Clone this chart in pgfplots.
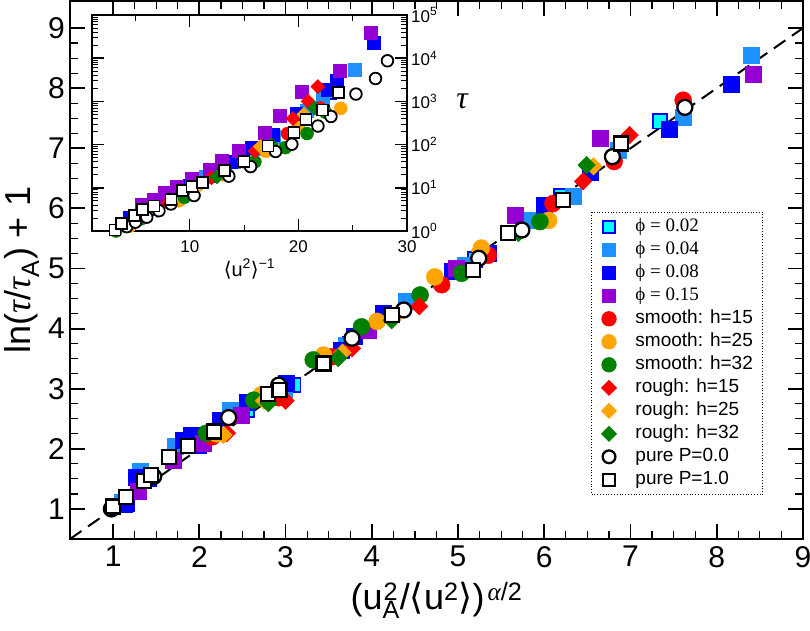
\documentclass[border=0pt]{standalone}
\usepackage{pgfplots}
\pgfplotsset{compat=1.18}
\usepackage{fontspec}
\setmainfont{Liberation Sans}
\newfontfamily\timesfont{Liberation Serif}
\newfontfamily\dejavu{DejaVu Sans}
\newcommand{\tauI}{{\timesfont\itshape τ}}
\definecolor{cyanF}{RGB}{0,255,255}
\definecolor{dodger}{RGB}{30,144,255}
\definecolor{blueF}{RGB}{0,0,255}
\definecolor{purpleF}{RGB}{148,0,211}
\definecolor{redF}{RGB}{255,0,0}
\definecolor{orangeF}{RGB}{255,165,0}
\definecolor{greenF}{RGB}{0,128,0}
\pgfplotsset{
  msq/.style={only marks, mark=square*, mark size=#1},
  mci/.style={only marks, mark=*, mark size=#1},
  mdi/.style={only marks, mark=square*, mark size=#1},
  sPhiA/.style={msq=#1, mark options={solid, fill=cyanF, draw=blueF, line width=1.8pt}},
  sPhiB/.style={msq=#1, mark options={solid, fill=dodger, draw=dodger}},
  sPhiC/.style={msq=#1, mark options={solid, fill=blueF, draw=blueF}},
  sPhiD/.style={msq=#1, mark options={solid, fill=purpleF, draw=purpleF}},
  sSmA/.style={mci=#1, mark options={solid, fill=redF, draw=redF}},
  sSmB/.style={mci=#1, mark options={solid, fill=orangeF, draw=orangeF}},
  sSmC/.style={mci=#1, mark options={solid, fill=greenF, draw=greenF}},
  sRoA/.style={mdi=#1, mark options={solid, rotate=45, fill=redF, draw=redF}},
  sRoB/.style={mdi=#1, mark options={solid, rotate=45, fill=orangeF, draw=orangeF}},
  sRoC/.style={mdi=#1, mark options={solid, rotate=45, fill=greenF, draw=greenF}},
  sPuA/.style={mci=#1, mark options={solid, fill=white, draw=black, line width=2.3pt}},
  sPuB/.style={msq=#1, mark options={solid, fill=white, draw=black, line width=2.3pt}},
}
\begin{document}
\begin{tikzpicture}
\begin{axis}[
  at={(70pt,91pt)}, anchor=south west,
  scale only axis, width=733pt, height=538pt,
  xmin=0.5, xmax=9, ymin=0.5, ymax=9.45,
  xtick={1,2,...,9}, ytick={1,2,...,9},
  minor x tick num=3, minor y tick num=3,
  tick align=inside, xtick pos=both, ytick pos=both,
  major tick length=15pt, minor tick length=8pt,
  every major tick/.append style={line width=1.8pt, black},
  every minor tick/.append style={line width=1.2pt, black},
  axis line style={line width=2.2pt},
  /pgf/number format/assume math mode=true,
  tick label style={font=\fontsize{30}{30}\selectfont},
  xticklabel style={inner sep=0pt, yshift=-7pt},
  yticklabel style={inner sep=0pt, xshift=-5pt},
  xlabel={(u\rlap{\textsuperscript{\kern1pt 2}}\textsubscript{A}/{\dejavu ⟨}u\textsuperscript{2}{\dejavu ⟩})\textsuperscript{\kern3pt{\timesfont\itshape α}/2}},
  ylabel={ln(\tauI/\tauI\textsubscript{A}) + 1},
  label style={font=\fontsize{36}{36}\selectfont},
  xlabel style={at={(axis description cs:0.5,-0.114)}, anchor=center},
  ylabel style={at={(axis description cs:-0.066,0.5)}, anchor=center},
  clip=false,
  legend cell align=left,
  legend style={at={(axis description cs:0.711,0.608)}, anchor=north west,
    draw=black, dotted, line width=0.8pt,
    font=\fontsize{19}{19}\selectfont,
    inner xsep=10pt, inner ysep=6pt, row sep=6pt, column sep=19pt,
    nodes={solid, inner sep=0pt, text height=13pt, text depth=4pt}},
  legend image code/.code={\draw[solid, mark repeat=2, mark phase=2, every mark/.append style={scale=0.85}, #1] plot coordinates {(0pt,0pt) (9pt,0pt) (18pt,0pt)};},
]
\addplot[black, dashed, line width=2pt, dash pattern=on 14pt off 8pt, forget plot] coordinates {(0.5,0.5) (9,9)};
\addplot[sPhiA=7.2pt] coordinates {(1.14,1.07) (1.42,1.5) (2.0,2.05) (2.55,2.65) (3.09,3.06) (3.75,3.75) (4.45,4.45) (5.2,5.15) (6.2,6.2) (7.34,7.45)};
\addlegendentry{{\timesfont ϕ = 0.02}}
\addplot[sPhiB=8pt] coordinates {(1.1,1.12) (1.31,1.62) (1.72,2.04) (2.36,2.65) (2.98,3.0) (3.7,3.72) (4.40,4.45) (5.08,5.06) (5.8,5.8) (6.34,6.20) (6.86,6.97) (7.61,7.51) (8.40,8.55)};
\addlegendentry{{\timesfont ϕ = 0.04}}
\addplot[sPhiC=8pt] coordinates {(1.15,1.1) (1.27,1.52) (1.81,2.15) (1.91,2.23) (2.24,2.48) (2.55,2.78) (3.01,3.1) (3.65,3.64) (3.80,3.87) (4.13,4.26) (4.93,4.95) (5.35,5.25) (6.0,6.05) (6.53,6.61) (7.45,7.31) (8.17,8.07)};
\addlegendentry{{\timesfont ϕ = 0.08}}
\addplot[sPhiD=8pt] coordinates {(1.29,1.29) (1.70,1.81) (2.05,2.1) (2.49,2.56) (3.96,3.98) (4.98,5.0) (5.66,5.89) (6.65,7.17) (8.42,8.23)};
\addlegendentry{{\timesfont ϕ = 0.15}}
\addplot[sSmA=8.5pt] coordinates {(2.15,2.2) (2.92,2.85) (3.53,3.53) (4.81,4.73) (5.35,5.22) (6.1,6.08) (6.81,6.78) (7.61,7.80)};
\addlegendentry{smooth: h=15}
\addplot[sSmB=8.5pt] coordinates {(2.2,2.25) (2.72,2.90) (3.44,3.56) (4.06,4.12) (4.73,4.86) (5.27,5.34) (6.05,5.8)};
\addlegendentry{smooth: h=25}
\addplot[sSmC=8.5pt] coordinates {(2.08,2.26) (2.63,2.81) (3.32,3.48) (3.88,4.03) (4.56,4.56) (5.04,4.92) (5.95,5.78)};
\addlegendentry{smooth: h=32}
\addplot[sRoA=6.2pt] coordinates {(2.32,2.26) (3.0,2.8) (3.77,3.67) (4.55,4.37) (6.45,6.45) (6.99,7.22)};
\addlegendentry{rough: h=15}
\addplot[sRoB=6.2pt] coordinates {(2.28,2.23) (2.75,2.8) (3.66,3.60) (4.3,4.25) (5.25,5.3) (6.57,6.70)};
\addlegendentry{rough: h=25}
\addplot[sRoC=6.2pt] coordinates {(2.80,2.76) (3.61,3.51) (4.23,4.14) (5.70,5.59) (6.49,6.72)};
\addlegendentry{rough: h=32}
\addplot[sPuA=7.5pt] coordinates {(0.98,1.0) (1.47,1.54) (2.34,2.52) (2.92,3.06) (3.77,3.84) (4.37,4.31) (5.24,5.17) (5.74,5.64) (6.79,6.86) (7.63,7.68)};
\addlegendentry{pure P=0.0}
\addplot[sPuB=7pt] coordinates {(1.0,1.04) (1.146,1.20) (1.36,1.47) (1.44,1.565) (1.65,1.86) (1.87,2.05) (2.17,2.29) (2.80,2.91) (2.93,2.98) (3.44,3.42) (4.23,4.23) (5.17,4.98) (5.58,5.59) (6.22,6.14) (6.89,7.08)};
\addlegendentry{pure P=1.0}
\end{axis}

\begin{axis}[
  at={(92pt,399pt)}, anchor=south west,
  scale only axis, width=315pt, height=216pt,
  xmin=1, xmax=30, ymin=1, ymax=100000, ymode=log,
  axis background/.style={fill=white},
  xtick={10,20,30}, minor xtick={5,15,25},
  ytick={1,10,100,1000,10000,100000},
  yticklabels={10\textsuperscript{0},10\textsuperscript{1},10\textsuperscript{2},10\textsuperscript{3},10\textsuperscript{4},10\textsuperscript{5}},
  tick align=inside, xtick pos=both, ytick pos=both,
  yticklabel pos=right,
  major tick length=12pt, minor tick length=6pt,
  every major tick/.append style={line width=1.4pt, black},
  every minor tick/.append style={line width=0.9pt, black},
  axis line style={line width=1.6pt},
  /pgf/number format/assume math mode=true,
  tick label style={font=\fontsize{17}{17}\selectfont},
  xticklabel style={inner sep=0pt, yshift=-9pt},
  yticklabel style={inner sep=0pt, xshift=4pt},
  xlabel={{\dejavu ⟨}u\textsuperscript{2}{\dejavu ⟩}\textsuperscript{−1}},
  xlabel style={font=\fontsize{20}{20}\selectfont, at={(axis description cs:0.5,-0.175)}, anchor=center},
  ylabel={\tauI},
  ylabel style={font=\fontsize{32}{32}\selectfont, rotate=-90, at={(axis description cs:1.175,0.6)}, anchor=center},
  clip=false,
]
\addplot[sPhiA=5.5pt] coordinates {(4,1.5) (6.5,3.1) (9,7) (12,18) (14.8,45) (17.5,110) (20,280) (22.3,900) (23,1500)};
\addplot[sPhiB=6.5pt] coordinates {(5,2.2) (7,4) (9.5,9) (11.5,18) (14,40) (16,80) (17.7,150) (20.8,600) (22.2,1200) (25.2,5500)};
\addplot[sPhiC=6.5pt] coordinates {(4.5,2.0) (6,3.2) (8,5.5) (10,11) (12,22) (13.8,40) (15.7,87) (17.6,170) (19.8,525) (22.7,1905) (23.5,3000) (26.9,22900)};
\addplot[sPhiD=6.5pt] coordinates {(5.57,3.98) (6.65,5.25) (7.7,7.76) (8.8,10.7) (10.2,16.6) (11.8,26.9) (12.9,42.7) (14.5,72.4) (16.9,191) (18.3,457) (20.3,1660) (23.8,5129) (26.7,39810)};
\addplot[sSmA=6.5pt] coordinates {(5,1.7) (10,9) (15,40) (19,180) (22,700)};
\addplot[sSmB=6.5pt] coordinates {(4.5,1.3) (9,5) (13,20) (17,70) (20,250) (23.9,690)};
\addplot[sSmC=6.5pt] coordinates {(3.2,1.0) (5.5,1.9) (9.5,6) (13.5,20) (16,40) (18.8,85) (20.8,180) (22.5,560)};
\addplot[sRoA=5pt] coordinates {(4.5,1.6) (8,4.5) (12,17) (16,70) (19.5,400) (20.9,1000) (21.8,2200)};
\addplot[sRoB=5pt] coordinates {(6,2.5) (11,12) (16.5,90) (20.5,500)};
\addplot[sRoC=5pt] coordinates {(7,3) (12.5,18) (17.5,100) (21.5,700)};
\addplot[sPuA=5.8pt, every mark/.append style={line width=1.8pt}] coordinates {(4.2,1.26) (5.0,1.6) (6.04,2.09) (7.17,2.95) (8.27,4.22) (10.4,6.61) (13.6,18.6) (15.6,30.9) (17.9,69.2) (19.4,102) (21.8,269) (23.0,447) (25.3,1479) (27.1,3388) (28.2,8710)};
\addplot[sPuB=5.5pt, every mark/.append style={line width=1.8pt}] coordinates {(3.12,1.05) (3.73,1.51) (4.9,2.24) (5.66,3.09) (6.71,3.80) (8.27,5.37) (9.32,8.51) (10.2,10.7) (11.2,13.2) (13.2,25.1) (15.0,39.8) (17.2,93.3) (19.6,191) (20.7,389) (22.2,631) (23.7,1585)};
\end{axis}
\pgfresetboundingbox
\path (0pt,0pt) rectangle (810pt,630pt);
\end{tikzpicture}
\end{document}
